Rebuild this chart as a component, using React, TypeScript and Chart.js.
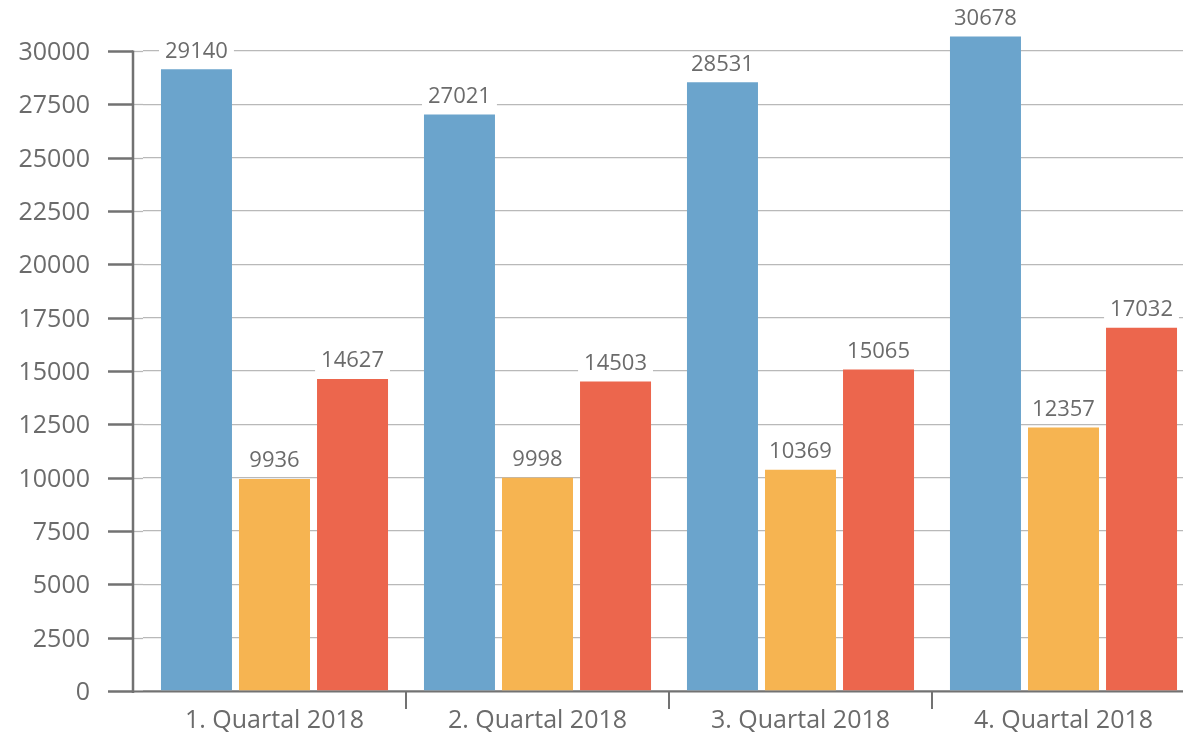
import React, { useEffect, useRef } from "react";
import { Chart, registerables } from "chart.js";

Chart.register(...registerables);

const categories = ["1. Quartal 2018", "2. Quartal 2018", "3. Quartal 2018", "4. Quartal 2018"];
const seriesBlue = [29140, 27021, 28531, 30678];
const seriesOrange = [9936, 9998, 10369, 12357];
const seriesRed = [14627, 14503, 15065, 17032];
const seriesNames = ["Reihe 1", "Reihe 2", "Reihe 3"];
const yMin = 0;
const yMax = 30000;
const yStep = 2500;

const BLUE = "#6ba4cc";
const ORANGE = "#f6b451";
const RED = "#ec664d";
const GRID = "#b9b9b9";
const AXIS = "#727272";
const TEXT = "#6b6b6b";
const FONT = "'Open Sans', 'Noto Sans', sans-serif";

const AREA = { left: 143, right: 1195, top: 51, bottom: 691 };

const decorPlugin = {
  id: "decor",
  afterLayout(chart: any) {
    const { left, right, top, bottom } = AREA;
    chart.chartArea = { left, right, top, bottom, width: right - left, height: bottom - top };
    const xs = chart.scales.x;
    xs.left = left; xs.right = right; xs.width = right - left;
    xs.top = bottom; xs.bottom = chart.height; xs.height = chart.height - bottom;
    const ys = chart.scales.y;
    ys.left = 0; ys.right = left; ys.width = left;
    ys.top = top; ys.bottom = bottom; ys.height = bottom - top;
    xs.configure();
    ys.configure();
  },
  beforeDatasetsDraw(chart: any) {
    const ctx = chart.ctx;
    const ys = chart.scales.y;
    const xs = chart.scales.x;
    const area = chart.chartArea;
    const axisX = area.left - 10;
    const bottom = Math.round(ys.getPixelForValue(0));
    ctx.save();
    ys.ticks.forEach((t: any) => {
      const py = Math.round(ys.getPixelForValue(t.value));
      ctx.strokeStyle = GRID;
      ctx.lineWidth = 1.3;
      ctx.beginPath();
      ctx.moveTo(axisX, py + 0.5);
      ctx.lineTo(area.left, py + 0.5);
      ctx.stroke();
      ctx.strokeStyle = AXIS;
      ctx.lineWidth = 2.5;
      ctx.beginPath();
      ctx.moveTo(axisX - 25, py + 0.5);
      ctx.lineTo(axisX, py + 0.5);
      ctx.stroke();
    });
    ctx.strokeStyle = AXIS;
    ctx.lineWidth = 2.5;
    ctx.beginPath();
    ctx.moveTo(axisX, Math.round(ys.getPixelForValue(yMax)) - 0.5);
    ctx.lineTo(axisX, bottom + 2);
    ctx.stroke();
    ctx.lineWidth = 2;
    ctx.beginPath();
    ctx.moveTo(axisX, bottom + 0.5);
    ctx.lineTo(chart.width, bottom + 0.5);
    ctx.stroke();
    for (let i = 1; i < categories.length; i++) {
      const bx = Math.round((xs.getPixelForValue(i - 1) + xs.getPixelForValue(i)) / 2);
      ctx.beginPath();
      ctx.moveTo(bx, bottom);
      ctx.lineTo(bx, bottom + 18);
      ctx.stroke();
    }
    ctx.restore();
  },
  afterDatasetsDraw(chart: any) {
    const ctx = chart.ctx;
    ctx.save();
    ctx.font = `22px ${FONT}`;
    ctx.textAlign = "center";
    ctx.textBaseline = "middle";
    chart.data.datasets.forEach((ds: any, di: number) => {
      const meta = chart.getDatasetMeta(di);
      meta.data.forEach((el: any, i: number) => {
        const txt = String(ds.data[i]);
        const w = ctx.measureText(txt).width;
        const cy = el.y - 18;
        ctx.fillStyle = "#ffffff";
        ctx.fillRect(el.x - w / 2 - 6, cy - 11, w + 12, 22);
        ctx.fillStyle = TEXT;
        ctx.fillText(txt, el.x, cy);
      });
    });
    ctx.restore();
  },
};

export default function App() {
  const ref = useRef<HTMLCanvasElement | null>(null);
  useEffect(() => {
    if (!ref.current) return;
    const chart = new Chart(ref.current, {
      type: "bar",
      data: {
        labels: categories,
        datasets: [
          { label: seriesNames[0], data: seriesBlue, backgroundColor: BLUE, clip: false as any },
          { label: seriesNames[1], data: seriesOrange, backgroundColor: ORANGE, clip: false as any },
          { label: seriesNames[2], data: seriesRed, backgroundColor: RED, clip: false as any },
        ],
      },
      options: {
        responsive: false,
        animation: false,
        devicePixelRatio: 1,
        layout: { padding: 0 },
        datasets: { bar: { categoryPercentage: 0.89, barPercentage: 0.91 } },
        plugins: {
          legend: { display: false },
          tooltip: { enabled: false },
        },
        scales: {
          x: {
            position: "bottom",
            grid: { display: false, drawTicks: false },
            border: { display: false },
            ticks: { color: TEXT, font: { family: FONT, size: 25 }, padding: 15, maxRotation: 0 },
          },
          y: {
            min: yMin,
            max: yMax,
            grid: { color: GRID, lineWidth: 1.3, drawTicks: false },
            border: { display: false },
            ticks: {
              stepSize: yStep,
              color: TEXT,
              font: { family: FONT, size: 25 },
              padding: 53,
              labelOffset: 2,
              callback: (v: any) => String(v),
            },
          },
        },
      },
      plugins: [decorPlugin],
    });
    return () => chart.destroy();
  }, []);
  return (
    <div style={{ position: "absolute", left: 0, top: 0, width: 1183, height: 739, background: "#fff" }}>
      <canvas ref={ref} width={1183} height={739} style={{ display: "block" }} />
    </div>
  );
}
